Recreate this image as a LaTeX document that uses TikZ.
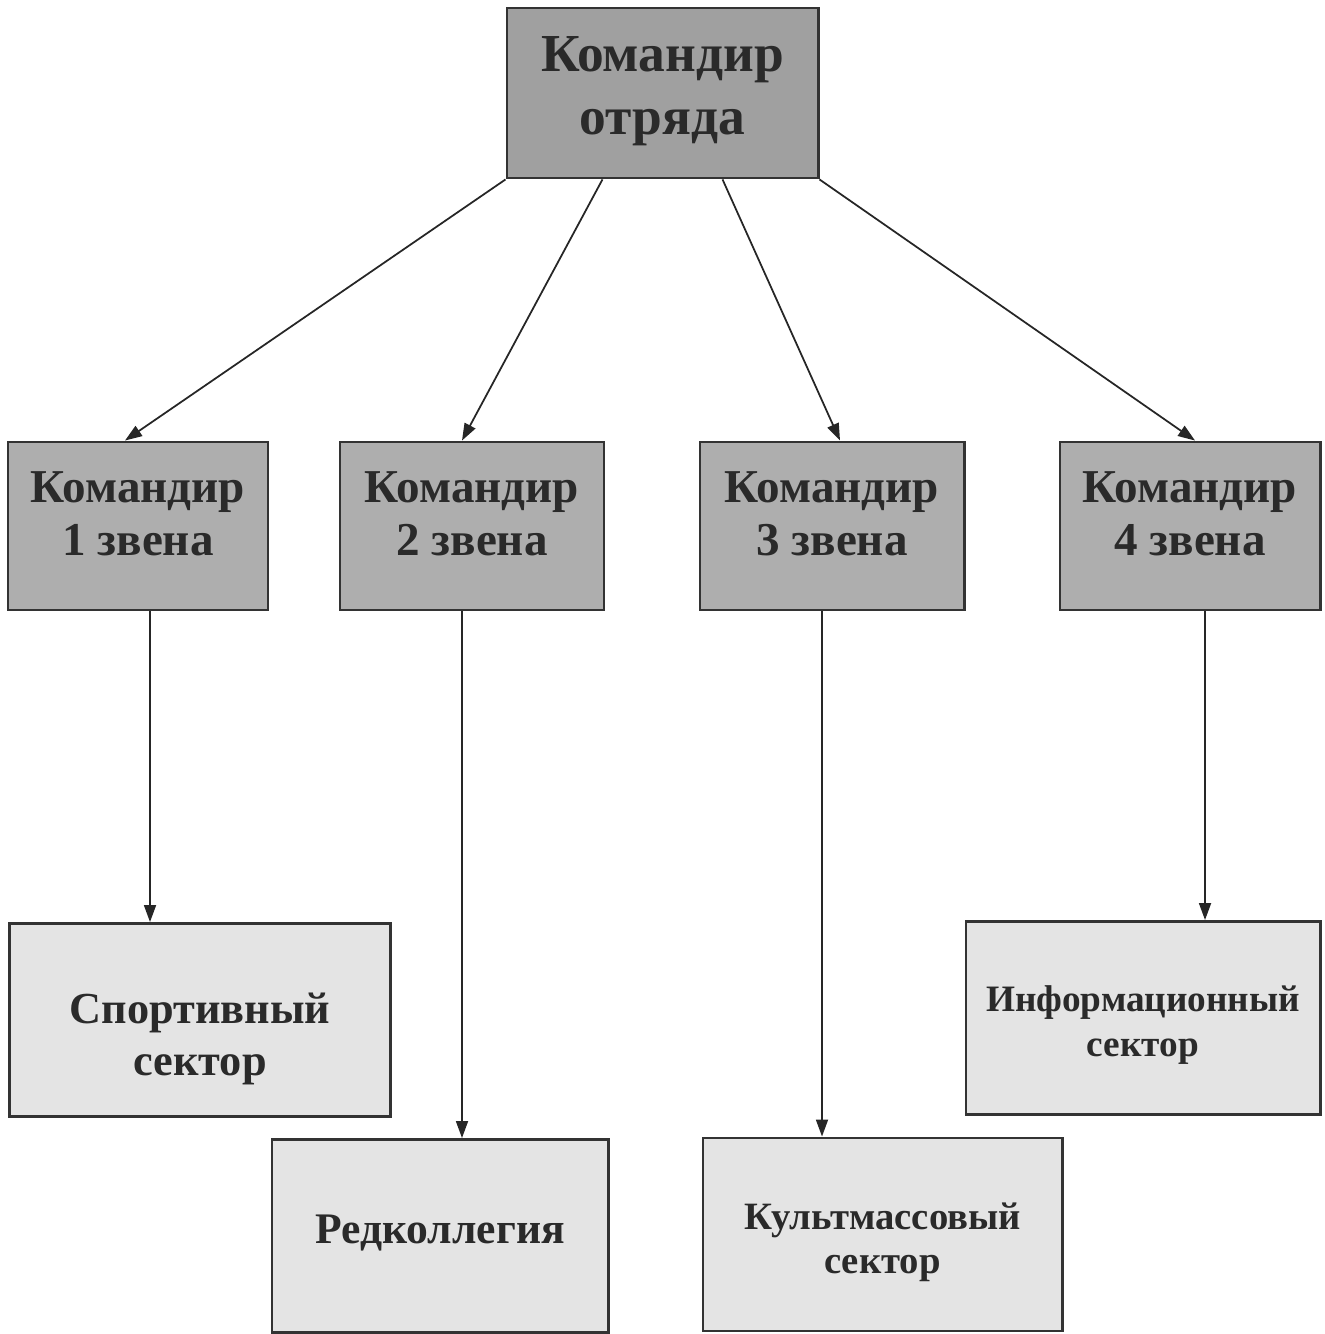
\documentclass[tikz,border=0pt]{standalone}
\usepackage{fontspec}
\setmainfont{Liberation Serif}
\usetikzlibrary{arrows.meta, calc}
\definecolor{chiefcolor}{RGB}{160, 160, 160}
\definecolor{linkcolor}{RGB}{174, 174, 174}
\definecolor{sectorcolor}{RGB}{228, 228, 228}
\definecolor{textcolor}{RGB}{42, 42, 42}
\tikzstyle{chiefbox} = [
    rectangle,
    draw=black!80,
    line width=0.8pt,
    fill=chiefcolor,
    inner sep=0pt,
    minimum width=3.11cm,
    minimum height=1.70cm
]
\tikzstyle{linkbox} = [
    rectangle,
    draw=black!80,
    line width=0.8pt,
    fill=linkcolor,
    inner sep=0pt,
    minimum width=2.62cm,
    minimum height=1.68cm
]
\tikzstyle{sectorbox} = [
    rectangle,
    draw=black!80,
    line width=0.8pt,
    fill=sectorcolor,
    inner sep=0pt,
    minimum height=1.93cm
]
\tikzstyle{boxtext} = [
    text=textcolor,
    align=center,
    inner sep=0pt
]
\tikzstyle{arrow} = [
    -{Triangle[length=0.17cm, width=0.12cm]},
    line width=0.5pt,
    color=black!85
]

\begin{document}
\begin{tikzpicture}[x=0.01cm, y=-0.01cm]

\useasboundingbox (0,0) rectangle (1325,1334);

% Top level
\node[chiefbox] (chief) at (662.5, 93) {};
\node[boxtext, font=\bfseries\fontsize{15.2}{18}\selectfont] (chieftext) at (chief.center) [yshift=0.02cm] {Командир\\отряда};

% Link commanders
\node[linkbox, minimum width=2.60cm] (link1) at (138, 526) {};
\node[boxtext, font=\bfseries\fontsize{13.4}{15}\selectfont] (link1text) at (link1.center) [yshift=0.12cm] {Командир\\1 звена};

\node[linkbox, minimum width=2.64cm] (link2) at (472, 526) {};
\node[boxtext, font=\bfseries\fontsize{13.4}{15}\selectfont] (link2text) at (link2.center) [yshift=0.12cm] {Командир\\2 звена};

\node[linkbox, minimum width=2.64cm] (link3) at (832, 526) {};
\node[boxtext, font=\bfseries\fontsize{13.4}{15}\selectfont] (link3text) at (link3.center) [yshift=0.12cm] {Командир\\3 звена};

\node[linkbox, minimum width=2.60cm] (link4) at (1190, 526) {};
\node[boxtext, font=\bfseries\fontsize{13.4}{15}\selectfont] (link4text) at (link4.center) [yshift=0.12cm] {Командир\\4 звена};

% Sectors
\node[sectorbox, minimum width=3.80cm] (sport) at (200, 1020) {};
\node[boxtext, font=\bfseries\fontsize{12.6}{14.8}\selectfont] (sporttext) at (sport.center) [yshift=-0.19cm] {Спортивный\\сектор};

\node[sectorbox, minimum width=3.36cm] (redcol) at (440, 1236) {};
\node[boxtext, font=\bfseries\fontsize{12.4}{14.6}\selectfont] (redcoltext) at (redcol.center) [yshift=0.03cm] {Редколлегия};

\node[sectorbox, minimum width=3.59cm] (culture) at (882.5, 1234.5) {};
\node[boxtext, font=\bfseries\fontsize{11}{12.6}\selectfont] (culturetext) at (culture.center) [yshift=-0.08cm] {Культмассовый\\сектор};

\node[sectorbox, minimum width=3.54cm] (inform) at (1143, 1018) {};
\node[boxtext, font=\bfseries\fontsize{10.6}{12.8}\selectfont] (informtext) at (inform.center) [yshift=-0.07cm] {Информационный\\сектор};

% Arrows from the top
\draw[arrow] (chief.south west) -- ([xshift=-0.13cm]link1.north);
\draw[arrow] ([xshift=-0.60cm]chief.south) -- ([xshift=-0.10cm]link2.north);
\draw[arrow] ([xshift=0.60cm]chief.south) -- ([xshift=0.08cm]link3.north);
\draw[arrow] (chief.south east) -- ([xshift=0.05cm]link4.north);

% Arrows to the sectors
\draw[arrow] ([xshift=0.12cm]link1.south) -- ([xshift=0.12cm]link1.south |- sport.north);
\draw[arrow] ([xshift=-0.10cm]link2.south) -- ([xshift=-0.10cm]link2.south |- redcol.north);
\draw[arrow] ([xshift=-0.10cm]link3.south) -- ([xshift=-0.10cm]link3.south |- culture.north);
\draw[arrow] ([xshift=0.15cm]link4.south) -- ([xshift=0.15cm]link4.south |- inform.north);

\end{tikzpicture}
\end{document}
